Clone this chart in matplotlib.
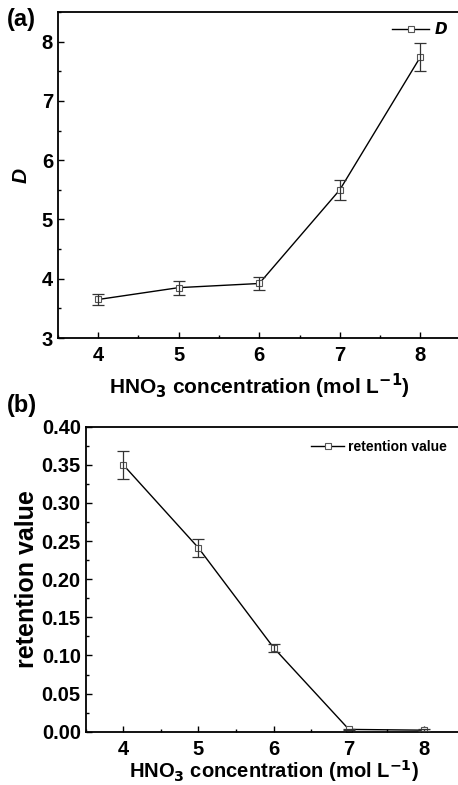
import matplotlib
matplotlib.use("Agg")
import matplotlib.pyplot as plt
from matplotlib.ticker import MultipleLocator, FormatStrFormatter

plt.rcParams['font.family'] = ['Liberation Sans', 'DejaVu Sans']
plt.rcParams['font.weight'] = 'bold'
plt.rcParams['mathtext.default'] = 'bf'

# HNO3 concentration (mol/L)
conc = [4, 5, 6, 7, 8]

# panel (a): distribution ratio D
d_values = [3.65, 3.85, 3.92, 5.50, 7.74]
d_errors = [0.10, 0.12, 0.11, 0.17, 0.23]

# panel (b): retention value
ret_values = [0.350, 0.241, 0.110, 0.003, 0.002]
ret_errors = [0.018, 0.012, 0.005, 0.001, 0.001]

xlabel = r'HNO$_\mathbf{3}$ concentration (mol L$^\mathbf{-1}$)'

fig = plt.figure(figsize=(4.58, 7.85), dpi=100)
ax1 = fig.add_axes([0.1266, 0.5694, 0.8790, 0.4153])
ax2 = fig.add_axes([0.1871, 0.0679, 0.8210, 0.3885])


def draw(ax, y, yerr, label):
    ax.plot(conc, y, color='black', lw=1.0, marker='s', markersize=4.8,
            markerfacecolor='white', markeredgecolor='#555555',
            markeredgewidth=0.8, label=label, zorder=2)
    ax.errorbar(conc, y, yerr=yerr, fmt='none', ecolor='#333333',
                elinewidth=0.9, capsize=4, capthick=0.9, zorder=3)
    ax.set_xlim(3.5, 8.5)
    ax.xaxis.set_major_locator(MultipleLocator(1))
    ax.xaxis.set_minor_locator(MultipleLocator(0.5))
    ax.tick_params(which='both', direction='in', width=1.0, labelsize=14.5)
    ax.tick_params(which='major', length=4)
    ax.tick_params(which='minor', length=2.5)
    ax.tick_params(axis='x', which='major', pad=6)
    for s in ax.spines.values():
        s.set_linewidth(1.3)


def bold_ticks(ax):
    for lab in ax.get_xticklabels() + ax.get_yticklabels():
        lab.set_fontweight('bold')


draw(ax1, d_values, d_errors, r'$\mathbfit{D}$')
ax1.set_ylim(3, 8.5)
ax1.yaxis.set_major_locator(MultipleLocator(1))
ax1.yaxis.set_minor_locator(MultipleLocator(0.5))
bold_ticks(ax1)
ax1.set_xlabel(xlabel, fontsize=15, fontweight='bold', labelpad=5)
ax1.set_ylabel('D', fontsize=15, fontweight='bold', style='italic', labelpad=8)
ax1.legend(loc='upper right', bbox_to_anchor=(1.0, 1.012), frameon=False,
           fontsize=11, handlelength=2.4, handletextpad=0.3, borderpad=0.35)
fig.text(0.015, 0.990, '(a)', fontsize=17, fontweight='bold', va='top', ha='left')

draw(ax2, ret_values, ret_errors, 'retention value')
ax2.set_ylim(0, 0.40)
ax2.yaxis.set_major_locator(MultipleLocator(0.05))
ax2.yaxis.set_minor_locator(MultipleLocator(0.025))
ax2.yaxis.set_major_formatter(FormatStrFormatter('%.2f'))
bold_ticks(ax2)
ax2.set_xlabel(xlabel, fontsize=14.5, fontweight='bold', labelpad=-1)
ax2.set_ylabel('retention value', fontsize=18, fontweight='bold', labelpad=2)
ax2.legend(loc='upper right', bbox_to_anchor=(0.995, 0.998), frameon=False,
           fontsize=10, handlelength=2.4, handletextpad=0.3, borderpad=0.4)
fig.text(0.015, 0.498, '(b)', fontsize=17, fontweight='bold', va='top', ha='left')

fig.savefig('out.png', dpi=100)
